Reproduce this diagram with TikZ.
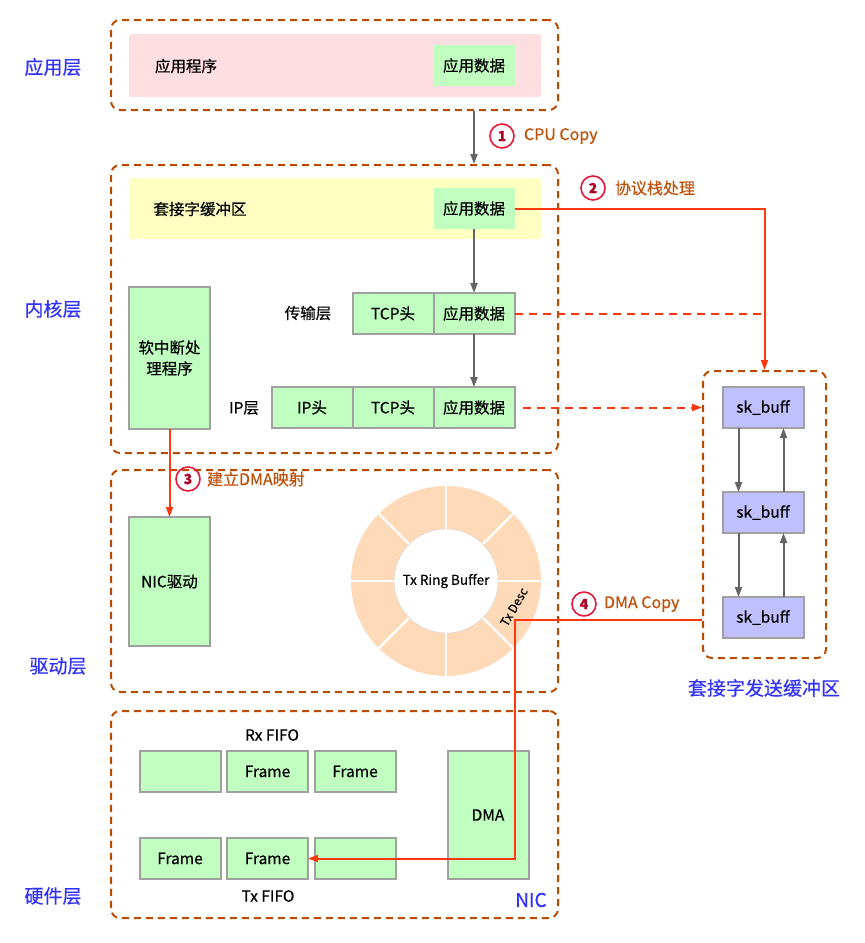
\documentclass[tikz,border=0pt]{standalone}
\usepackage{fontspec}
\setmainfont{Noto Sans CJK SC}[FakeBold=0.5]
\usetikzlibrary{positioning,arrows.meta}

\definecolor{dashbrown}{RGB}{185,75,0}
\definecolor{notebrown}{RGB}{190,80,10}
\definecolor{layerblue}{RGB}{50,50,255}
\definecolor{apppink}{RGB}{255,222,226}
\definecolor{sockyellow}{RGB}{255,255,194}
\definecolor{cellgreen}{RGB}{192,255,192}
\definecolor{skblue}{RGB}{192,192,255}
\definecolor{cellgray}{RGB}{160,160,160}
\definecolor{arrowgray}{RGB}{100,100,100}
\definecolor{flowred}{RGB}{255,55,15}
\definecolor{ringred}{RGB}{230,25,60}
\definecolor{numred}{RGB}{175,0,40}
\definecolor{ringpeach}{RGB}{254,218,185}

\begin{document}
\begin{tikzpicture}[x=1pt,y=-1pt,
    >={Triangle[length=10pt,width=7pt]},
    layer/.style={draw=dashbrown, dash pattern=on 7pt off 5pt, line width=2pt,
        rounded corners=9pt, inner sep=0, minimum width=447pt},
    bgbox/.style={rounded corners=2pt, inner sep=0, minimum width=412pt},
    cell/.style={fill=cellgreen, draw=cellgray, line width=2pt, inner sep=0, outer sep=0,
        minimum width=81pt, minimum height=41pt, font=\fontsize{15.5}{21}\selectfont},
    skbox/.style={cell, fill=skblue},
    txt/.style={font=\fontsize{15.5}{17}\selectfont},
    lname/.style={text=layerblue, font=\fontsize{19}{21}\selectfont},
    stepnum/.style={circle, draw=ringred, line width=1.6pt, minimum size=24pt, inner sep=0,
        text=numred, font=\fontsize{14}{14}\selectfont\bfseries},
    note/.style={text=notebrown, inner sep=1pt, font=\fontsize{16}{18}\selectfont},
    garrow/.style={->, draw=arrowgray, line width=2pt},
    rarrow/.style={->, draw=flowred, line width=2pt},
    rdash/.style={draw=flowred, line width=2pt, dash pattern=on 8pt off 6pt}]

    \useasboundingbox (0,0) rectangle (865,943);

    % Layers
    \node[layer, minimum height=90pt] (app) at (334.5,65) {};
    \node[layer, minimum height=288pt] (kern) at (334.5,309) {};
    \node[layer, minimum height=222pt] (drv) at (334.5,581) {};
    \node[layer, minimum height=207pt] (hw) at (334.5,814.5) {};
    \node[layer, minimum width=123pt, minimum height=287pt] (sendbuf) at (764.5,514.5) {};

    \node[lname] (appname) at (53,67) {应用层};
    \node[lname] (kernname) at (53,309) {内核层};
    \node[lname] (drvname) at (58,666) {驱动层};
    \node[lname] (hwname) at (53,896) {硬件层};
    \node[lname] (nicname) at (531,900) {NIC};
    \node[lname] (sendname) at (764,688) {套接字发送缓冲区};

    % Application layer
    \node[bgbox, fill=apppink, minimum height=63pt] (appbg) at (335,65.5) {};
    \node[txt] (appprog) at (186,66) {应用程序};
    \node[cell, draw=none] (appdata) at (474,65.5) {应用数据};

    % Kernel layer
    \node[bgbox, fill=sockyellow, minimum height=61pt] (sockbg) at (335,208.5) {};
    \node[txt] (sockname) at (200,209) {套接字缓冲区};
    \node[cell, draw=none] (sockdata) at (474,208.5) {应用数据};

    \node[cell] (tcpdata) at (474,313.5) {应用数据};
    \node[cell, left=0pt of tcpdata] (tcphdr) {TCP头};
    \node[txt] (tcpname) at (308,313) {传输层};

    \node[cell] (ipdata) at (474,407.5) {应用数据};
    \node[cell, left=0pt of ipdata] (iptcp) {TCP头};
    \node[cell, left=0pt of iptcp] (iphdr) {IP头};
    \node[txt] (ipname) at (244,408) {IP层};

    \node[cell, minimum height=142pt, align=center] (softirq) at (169.5,358) {软中断处\\理程序};

    % Driver layer
    \node[cell, minimum height=129pt] (nicdrv) at (169.5,581.5) {NIC驱动};
    \node[circle, fill=ringpeach, minimum size=190pt, inner sep=0] (ring) at (446,581) {};
    \foreach \a in {0,45,...,315}
        \draw[white, line width=2.2pt] (ring.center) ++(\a:50) -- ++(\a:46);
    \node[circle, fill=white, draw=gray!35, minimum size=104pt, inner sep=0,
        font=\fontsize{13.5}{15}\selectfont] (txring) at (ring.center) {Tx Ring Buffer};
    \node[rotate=60, inner sep=0, font=\fontsize{12}{14}\selectfont] (txdesc) at (514,607) {Tx Desc};
    \coordinate (desc) at (515,620);

    % Hardware layer
    \node[txt] (rxname) at (272,735) {Rx FIFO};
    \node[cell] (rxf1) at (180,771.5) {};
    \node[cell, right=6.5pt of rxf1] (rxf2) {Frame};
    \node[cell, right=6.5pt of rxf2] (rxf3) {Frame};
    \node[cell] (txf1) at (180,858.5) {Frame};
    \node[cell, right=6.5pt of txf1] (txf2) {Frame};
    \node[cell, right=6.5pt of txf2] (txf3) {};
    \node[txt] (txname) at (268,896) {Tx FIFO};
    \node[cell, minimum height=128pt] (dma) at (488,815) {DMA};

    % Socket send buffer
    \node[skbox] (skb1) at (763,407.5) {sk\_buff};
    \node[skbox] (skb2) at (763,512.5) {sk\_buff};
    \node[skbox] (skb3) at (763,617.5) {sk\_buff};
    \foreach \u/\d in {skb1/skb2,skb2/skb3} {
        \draw[garrow] ([xshift=16pt]\u.south west) -- ([xshift=16pt]\d.north west);
        \draw[garrow] ([xshift=-20pt]\d.north east) -- ([xshift=-20pt]\u.south east);
    }

    % Copy path
    \draw[garrow] (app.south -| appdata) -- (kern.north -| appdata);
    \draw[garrow] (sockdata.south) -- (tcpdata.north);
    \draw[garrow] (tcpdata.south) -- (ipdata.north);

    \draw[rarrow] (sockdata.east) -| (sendbuf.north);
    \draw[rdash] (tcpdata.east) -- (tcpdata.east -| sendbuf.north);
    \draw[rdash, ->, shorten <=8pt] (ipdata.east) -- (ipdata.east -| sendbuf.west);
    \draw[rarrow] (softirq.south) -- (nicdrv.north);
    \draw[rarrow] (sendbuf.west |- desc) -- (desc) |- (txf2.east);

    % Steps
    \node[stepnum] (m1) at (502,136) {1};
    \node[note, right=8pt of m1] (m1txt) {CPU Copy};
    \node[stepnum] (m2) at (593,188) {2};
    \node[note, right=8pt of m2] (m2txt) {协议栈处理};
    \node[stepnum] (m3) at (188,479) {3};
    \node[note, right=5pt of m3] (m3txt) {建立DMA映射};
    \node[stepnum] (m4) at (584,604) {4};
    \node[note, right=6pt of m4] (m4txt) {DMA Copy};
\end{tikzpicture}
\end{document}
